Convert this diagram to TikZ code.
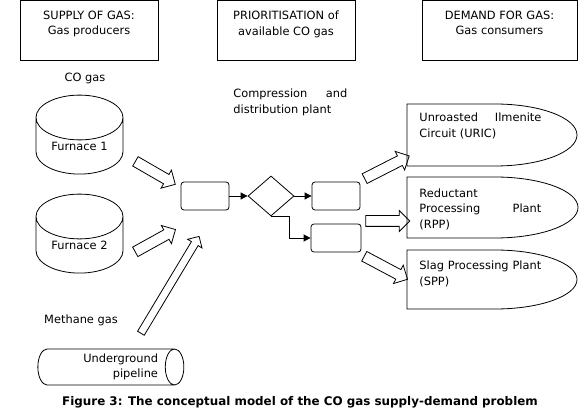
\documentclass[tikz,border=0pt]{standalone}
\usepackage{fontspec}
\setmainfont{DejaVu Sans}
\usetikzlibrary{shapes.geometric,shapes.arrows,arrows.meta}

\begin{document}
\begin{tikzpicture}[
  x=1pt, y=-1pt, line width=0.8pt,
  every node/.style={font=\fontsize{11.4}{15.5}\selectfont, inner sep=0pt},
  head/.style={draw, minimum width=138pt, minimum height=60pt, align=center},
  tank/.style={draw, cylinder, shape border rotate=90, aspect=0.8, minimum width=87pt, minimum height=79pt},
  blk/.style={draw, fill=white, single arrow, single arrow head extend=5pt, inner ysep=5pt},
  unit/.style={draw, rounded corners=3pt, minimum width=48pt, minimum height=28pt},
  flow/.style={-{Triangle[length=7pt,width=7pt]}},
  dem/.style={anchor=west, text width=122pt, align=left}
]
  \useasboundingbox (0,0) rectangle (580,411);

  % headings
  \node[head] (supply) at (89,30) {SUPPLY OF GAS:\\Gas producers\\[-6pt]\strut};
  \node[head] (prio) at (286,30) {PRIORITISATION of\\available CO gas\\[-6pt]\strut};
  \node[head, minimum width=155pt] (demand) at (499.5,30) {DEMAND FOR GAS:\\Gas consumers\\[-6pt]\strut};

  % supply side
  \node (co) at (85,78) {CO gas};
  \node[tank] (f1) at (79.5,146) {Furnace 1};
  \node[tank] (f2) at (79.5,245) {Furnace 2};
  \node (meth) at (81,320) {Methane gas};
  \node[draw, cylinder, aspect=0.7, minimum width=36pt, minimum height=146pt,
        text width=104pt, align=right] (pipe) at (106,367) {Underground\\pipeline};

  % compression and distribution plant
  \node[anchor=west, text width=114pt, align=left] (plant) at (233,102.5)
    {Compression\hspace{\fill}and\\distribution plant};
  \node[unit] (b1) at (205,196) {};
  \node[draw, diamond, minimum width=46pt, minimum height=40pt] (dia) at (271,196) {};
  \node[unit] (b2) at (336,196) {};
  \node[unit, minimum width=50pt] (b3) at (336,238) {};
  \draw[flow] (b1) -- (dia);
  \draw[flow] (dia) -- (b2);
  \draw[flow] (dia.south) -- ++(18,0) |- (b3);

  % block arrows
  \node[blk, minimum height=46pt, rotate=-30] (a1) at (153,171.5) {};
  \node[blk, minimum height=46pt, rotate=29] (a2) at (153,242) {};
  \node[blk, minimum height=113pt, inner ysep=3.5pt, single arrow head extend=4.5pt, rotate=59] (a3) at (169,286.5) {};
  \node[blk, minimum height=50pt, rotate=27] (a4) at (384.5,168.5) {};
  \node[blk, minimum height=44pt] (a5) at (385,221) {};
  \node[blk, minimum height=49pt, rotate=-28] (a6) at (383.5,266.5) {};

  % demand side
  \draw (407,104) -- (495,104) arc[start angle=90, end angle=-90, x radius=82pt, y radius=31pt] -- (407,166) -- cycle;
  \node[dem] (uric) at (419,126) {Unroasted\hspace{\fill}Ilmenite\\Circuit (URIC)};
  \draw (407,177) -- (495,177) arc[start angle=90, end angle=-90, x radius=83pt, y radius=30.5pt] -- (407,238) -- cycle;
  \node[dem] (rpp) at (419,209) {Reductant\\Processing\hspace{\fill}Plant\\(RPP)};
  \draw (407,250) -- (495,250) arc[start angle=90, end angle=-90, x radius=82pt, y radius=29.5pt] -- (407,309) -- cycle;
  \node[dem] (spp) at (419,274) {Slag Processing Plant\\(SPP)};

  \node[font=\bfseries\fontsize{11.9}{13}\selectfont] (cap) at (300,402)
    {Figure 3: The conceptual model of the CO gas supply-demand problem};
\end{tikzpicture}
\end{document}
